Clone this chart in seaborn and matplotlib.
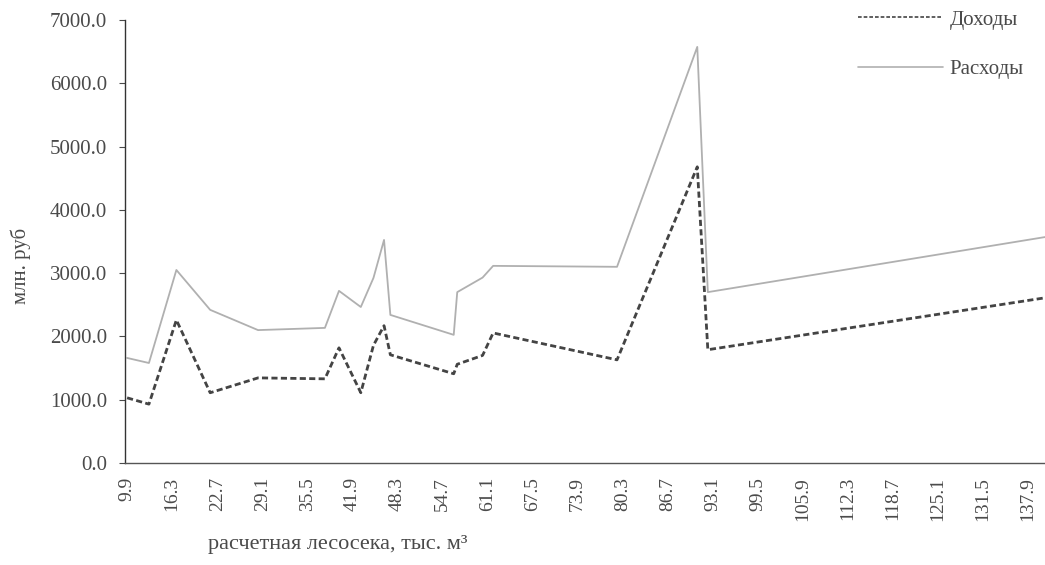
import pandas as pd
import matplotlib.pyplot as plt
import seaborn as sns
from matplotlib.ticker import FuncFormatter

# Values (x = расчетная лесосека, y = млн. руб)
x_vals = [9.9, 13.0, 16.9, 21.7, 28.5, 38.0, 40.0, 43.1, 44.9, 46.4, 47.3,
          56.3, 56.8, 60.4, 61.9, 79.5, 90.9, 92.4, 140.3]
income = [1030, 930, 2260, 1110, 1345, 1330, 1820, 1110, 1860, 2170, 1710,
          1410, 1560, 1700, 2055, 1630, 4680, 1790, 2610]
expenses = [1660, 1580, 3050, 2420, 2100, 2135, 2720, 2465, 2925, 3525, 2340,
            2025, 2700, 2930, 3115, 3100, 6575, 2700, 3570]
x_ticks = [9.9, 16.3, 22.7, 29.1, 35.5, 41.9, 48.3, 54.7, 61.1, 67.5, 73.9,
           80.3, 86.7, 93.1, 99.5, 105.9, 112.3, 118.7, 125.1, 131.5, 137.9]
y_ticks = [0, 1000, 2000, 3000, 4000, 5000, 6000, 7000]

df = pd.DataFrame({'x': x_vals, 'Доходы': income, 'Расходы': expenses})

sns.set_style('white')
plt.rcParams['font.family'] = ['Liberation Serif', 'DejaVu Serif']
text_color = '#4a4a4a'

fig = plt.figure(figsize=(10.45, 5.65), dpi=100)
ax = fig.add_axes([125 / 1045, 1 - 463 / 565, 920 / 1045, 443 / 565])

sns.lineplot(data=df, x='x', y='Доходы', ax=ax, sort=False, color='#444444',
             linewidth=2.0, linestyle=(0, (2.2, 1.2)), label='Доходы')
sns.lineplot(data=df, x='x', y='Расходы', ax=ax, sort=False, color='#b0b0b0',
             linewidth=1.3, label='Расходы')

ax.set_xlim(9.6, 140.3)
ax.set_ylim(0, 7000)
ax.set_xticks(x_ticks)
ax.set_xticklabels([f'{t:.1f}' for t in x_ticks], rotation=90)
ax.set_yticks(y_ticks)
ax.yaxis.set_major_formatter(FuncFormatter(lambda v, p: f'{v:.1f}'))

ax.tick_params(axis='x', length=0, pad=10, labelsize=14, colors=text_color)
ax.tick_params(axis='y', length=4, width=0.8, pad=9, labelsize=15,
               colors=text_color, direction='out', left=True)

for side in ['top', 'right']:
    ax.spines[side].set_visible(False)
ax.spines['left'].set_color('#333333')
ax.spines['bottom'].set_color('#555555')
ax.spines['left'].set_linewidth(1.0)
ax.spines['bottom'].set_linewidth(1.0)

ax.set_xlabel('расчетная лесосека, тыс. м³', fontsize=16, color=text_color)
ax.xaxis.set_label_coords((338 - 125) / 920, -(535 - 463) / 443)
ax.set_ylabel('млн. руб', fontsize=15, color=text_color)
ax.yaxis.set_label_coords(-(125 - 31) / 920, (463 - 266) / 443)

ax.legend(loc='upper left', bbox_to_anchor=(858 / 1045, 1 - 10 / 565),
          bbox_transform=fig.transFigure, frameon=False, fontsize=15,
          handlelength=4.1, handletextpad=0.3, labelspacing=1.45,
          borderpad=0, borderaxespad=0, labelcolor=text_color)
for line in ax.get_legend().get_lines():
    line.set_linewidth(1.2)

fig.savefig('out.png', dpi=100)
